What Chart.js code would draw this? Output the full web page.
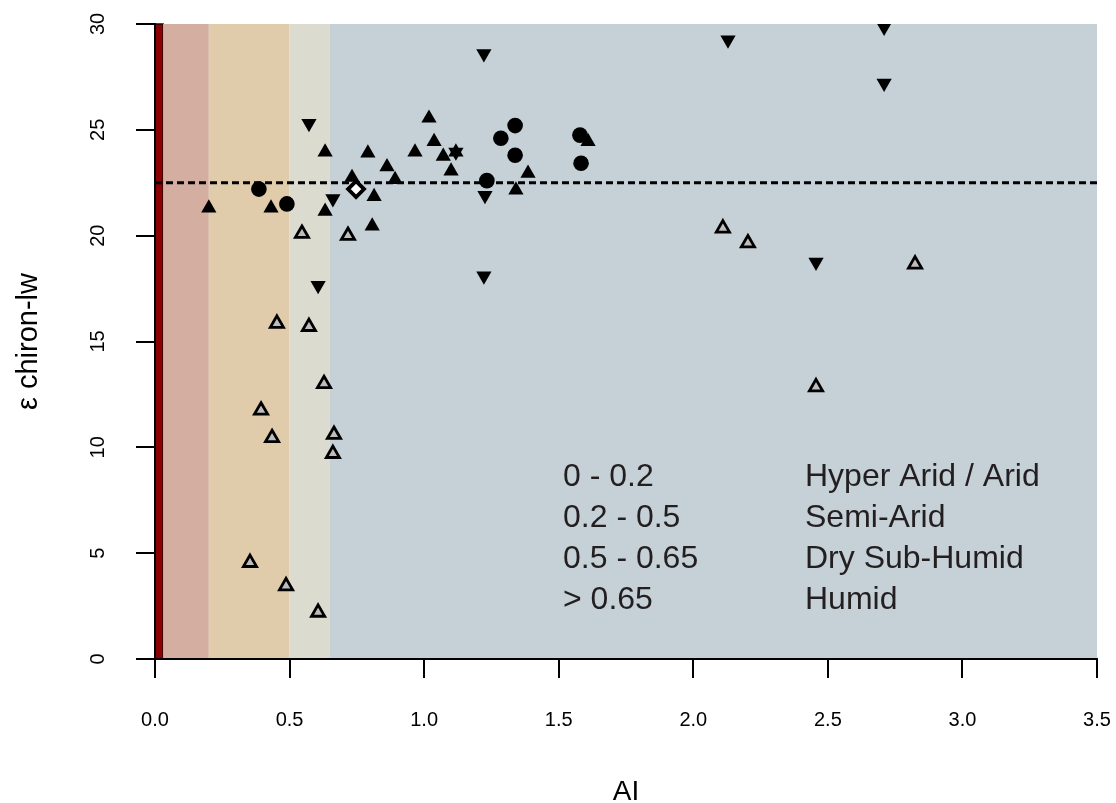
<!DOCTYPE html>
<html>
<head>
<meta charset="utf-8">
<script src="https://cdn.jsdelivr.net/npm/chart.js@4.4.1/dist/chart.umd.min.js"></script>
<style>
  html, body { margin: 0; padding: 0; background: #fff; }
  canvas { display: block; }
</style>
</head>
<body>
<canvas id="canvas1" width="1116" height="803"></canvas>
<script>
// aridity index (AI) vs epsilon chiron-lw, one pair of arrays per symbol
var aiUp  = [0.20, 0.431, 0.632, 0.632, 0.732, 0.791, 0.862, 0.892, 0.814, 0.807, 1.018, 0.966, 1.037, 1.071, 1.100, 1.118, 1.341, 1.386, 1.609];
var epsUp = [21.3, 21.3, 23.95, 21.15, 22.75, 23.9, 23.25, 22.65, 21.85, 20.45, 25.55, 23.95, 24.45, 23.75, 23.05, 23.95, 22.15, 22.95, 24.45];

var aiCircle  = [0.386, 0.490, 1.285, 1.338, 1.338, 1.233, 1.579, 1.583];
var epsCircle = [22.2, 21.5, 24.6, 25.2, 23.8, 22.6, 24.75, 23.42];

var aiDown  = [0.572, 0.661, 0.606, 1.222, 1.226, 1.222, 1.118, 2.129, 2.709, 2.709, 2.456];
var epsDown = [25.3, 21.75, 17.65, 28.6, 21.9, 18.1, 23.95, 29.25, 29.85, 27.2, 18.75];

var aiOpen  = [0.546, 0.717, 0.453, 0.572, 0.628, 0.394, 0.435, 0.665, 0.661, 0.353, 0.487, 0.606, 2.110, 2.203, 2.824, 2.456];
var epsOpen = [20.1, 20.0, 15.85, 15.7, 13.0, 11.75, 10.45, 10.6, 9.7, 4.55, 3.45, 2.2, 20.35, 19.65, 18.65, 12.85];

var aiDiamond  = [0.747];
var epsDiamond = [22.2];

// mean line
var epsMean = 22.5;

// aridity classes
var zoneEdges  = [0, 0.03, 0.2, 0.5, 0.65, 3.5];
var zoneColors = ['#8b0000', '#d3aea1', '#e0cbab', '#dcdbcf', '#c5d0d7'];
var zoneRanges = ['0 - 0.2', '0.2 - 0.5', '0.5 - 0.65', '> 0.65'];
var zoneNames  = ['Hyper Arid / Arid', 'Semi-Arid', 'Dry Sub-Humid', 'Humid'];

var xTicks = [0, 0.5, 1.0, 1.5, 2.0, 2.5, 3.0, 3.5];
var yTicks = [0, 5, 10, 15, 20, 25, 30];

var fontFamily = "'Liberation Sans', Arial, sans-serif";

function toPoints(xs, ys) {
    var pts = [];
    for (var i = 0; i < xs.length; i++) pts.push({ x: xs[i], y: ys[i] });
    return pts;
}

// keep the plot box fixed: no extra room for overhanging tick labels
function noLabelPadding(s) {
    s.paddingTop = 0;
    s.paddingBottom = 0;
    s.paddingLeft = 0;
    s.paddingRight = 0;
}

var zonePlugin = {
    id: 'aridityZones',
    beforeDraw: function (chart) {
        var ctx = chart.ctx;
        var xs = chart.scales.x, ys = chart.scales.y;
        var top = ys.getPixelForValue(yTicks[yTicks.length - 1]);
        var bottom = ys.getPixelForValue(0);
        ctx.save();
        for (var i = 0; i < zoneColors.length; i++) {
            var x0 = xs.getPixelForValue(zoneEdges[i]);
            var x1 = xs.getPixelForValue(zoneEdges[i + 1]);
            ctx.fillStyle = zoneColors[i];
            ctx.fillRect(x0, top, x1 - x0, bottom - top);
            if (i === 0) {
                ctx.strokeStyle = '#1a0000';
                ctx.lineWidth = 1.5;
                ctx.strokeRect(x0, top, x1 - x0, bottom - top);
            }
        }
        ctx.restore();
    }
};

var classTextPlugin = {
    id: 'classText',
    afterDatasetsDraw: function (chart) {
        var ctx = chart.ctx, area = chart.chartArea;
        ctx.save();
        ctx.font = '32px ' + fontFamily;
        ctx.fillStyle = '#231f20';
        ctx.textBaseline = 'alphabetic';
        for (var i = 0; i < zoneRanges.length; i++) {
            var y = area.top + 462 + i * 41;
            ctx.fillText(zoneRanges[i], area.left + 408, y);
            ctx.fillText(zoneNames[i], area.left + 650, y);
        }
        ctx.restore();
    }
};

var pointBase = { showLine: false, borderWidth: 0 };

new Chart(document.getElementById('canvas1'), {
    type: 'scatter',
    data: {
        datasets: [
            Object.assign({}, pointBase, {
                label: 'diamond', data: toPoints(aiDiamond, epsDiamond), order: 0,
                pointStyle: 'rectRot', pointRadius: 8, backgroundColor: '#ffffff',
                borderColor: '#000', borderWidth: 3.8
            }),
            Object.assign({}, pointBase, {
                label: 'up', data: toPoints(aiUp, epsUp), order: 1,
                pointStyle: 'triangle', pointRadius: 8.8, backgroundColor: '#000', borderColor: '#000'
            }),
            Object.assign({}, pointBase, {
                label: 'down', data: toPoints(aiDown, epsDown), order: 2,
                pointStyle: 'triangle', rotation: 180, pointRadius: 8.8, backgroundColor: '#000', borderColor: '#000'
            }),
            Object.assign({}, pointBase, {
                label: 'circle', data: toPoints(aiCircle, epsCircle), order: 3,
                pointStyle: 'circle', pointRadius: 7.8, backgroundColor: '#000', borderColor: '#000'
            }),
            Object.assign({}, pointBase, {
                label: 'open', data: toPoints(aiOpen, epsOpen), order: 4,
                pointStyle: 'triangle', pointRadius: 7.6, backgroundColor: '#bdbdbd',
                borderColor: '#000', borderWidth: 2.8
            }),
            {
                type: 'line', label: 'mean', order: 10,
                data: [{ x: 0, y: epsMean }, { x: 3.5, y: epsMean }],
                borderColor: '#000', borderWidth: 2.8, borderDash: [7, 4],
                pointRadius: 0, fill: false
            }
        ]
    },
    options: {
        responsive: false,
        animation: false,
        events: [],
        layout: { padding: { top: 24, right: 19, left: 0, bottom: 0 } },
        plugins: { legend: { display: false }, tooltip: { enabled: false } },
        scales: {
            x: {
                type: 'linear', min: 0, max: 3.5,
                afterBuildTicks: function (s) { s.ticks = xTicks.map(function (v) { return { value: v }; }); },
                ticks: {
                    callback: function (v) { return v.toFixed(1); },
                    color: '#000', padding: 30,
                    font: { family: fontFamily, size: 20 }
                },
                grid: { drawOnChartArea: false, tickLength: 19, color: '#000', lineWidth: 2 },
                border: { color: '#000', width: 2 },
                title: {
                    display: true, text: 'AI', color: '#000',
                    font: { family: fontFamily, size: 28, lineHeight: 0.8 },
                    padding: { top: 0, bottom: 0 }
                },
                afterFit: function (s) { s.height = 144; noLabelPadding(s); }
            },
            y: {
                type: 'linear', min: 0, max: 30,
                afterBuildTicks: function (s) { s.ticks = yTicks.map(function (v) { return { value: v }; }); },
                ticks: {
                    color: '#000', padding: 26, minRotation: 90, maxRotation: 90, crossAlign: 'center',
                    font: { family: fontFamily, size: 20 }
                },
                grid: { drawOnChartArea: false, tickLength: 19, color: '#000', lineWidth: 2 },
                border: { color: '#000', width: 2 },
                title: {
                    display: true, text: 'ε chiron-lw', color: '#000',
                    font: { family: fontFamily, size: 29 },
                    padding: { top: 12, bottom: 0 }
                },
                afterFit: function (s) { s.width = 155; noLabelPadding(s); }
            }
        }
    },
    plugins: [zonePlugin, classTextPlugin]
});
</script>
</body>
</html>
